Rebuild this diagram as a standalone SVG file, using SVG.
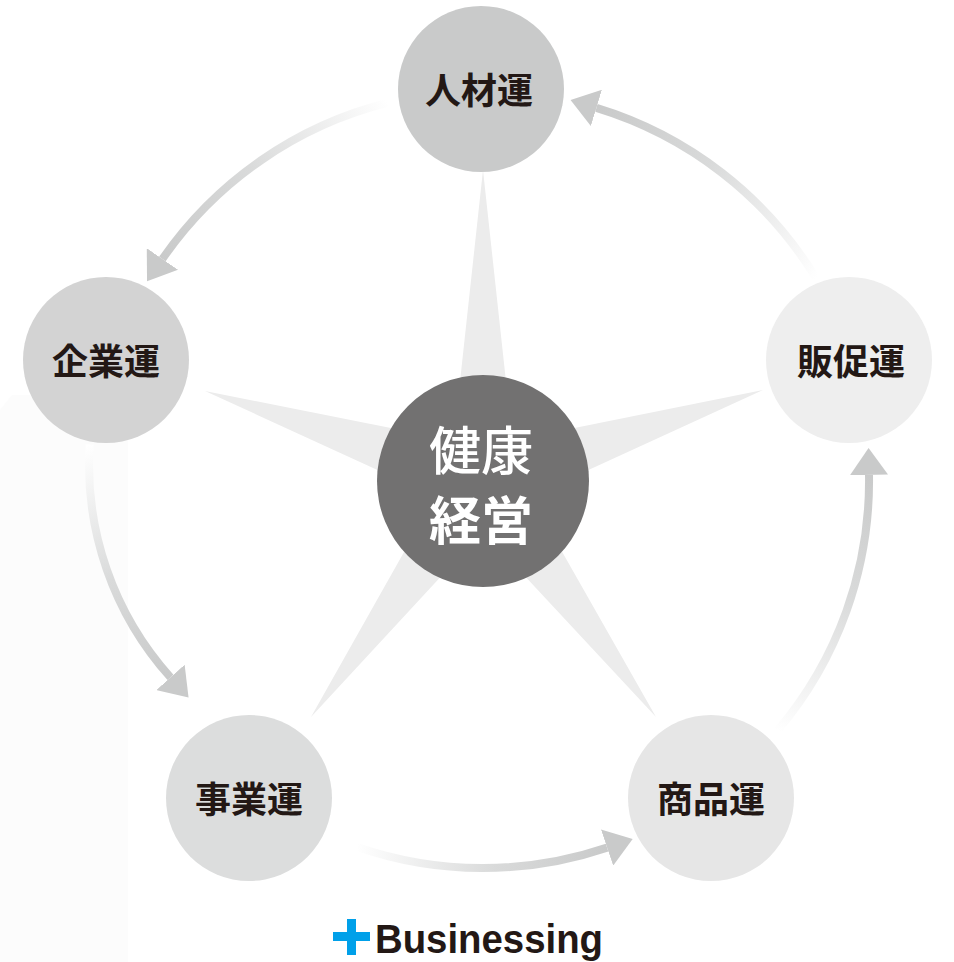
<svg xmlns="http://www.w3.org/2000/svg" width="954" height="962" viewBox="0 0 954 962">
<style>
.lbl{font-family:"Noto Sans CJK JP","Noto Sans CJK SC",sans-serif;font-weight:700;font-size:36px;fill:#231815;text-anchor:middle;dominant-baseline:central}
.ctr{font-family:"Noto Sans CJK JP","Noto Sans CJK SC",sans-serif;font-size:52px;fill:#ffffff;text-anchor:middle;dominant-baseline:central}
.arr{fill:none;stroke-width:8;stroke-linecap:butt}
</style>
<defs>
<marker id="head" markerUnits="userSpaceOnUse" markerWidth="28" markerHeight="38" refX="0" refY="19" orient="auto" viewBox="0 0 28 38">
<path d="M0,0 L27,19 L0,38 Z" fill="#c9caca"/>
</marker>
<linearGradient id="g1" gradientUnits="userSpaceOnUse" x1="388" y1="102.7" x2="162.4" y2="259"><stop offset="0" stop-color="#ffffff"/><stop offset="0.55" stop-color="#d9dada"/><stop offset="1" stop-color="#c9caca"/></linearGradient>
<linearGradient id="g2" gradientUnits="userSpaceOnUse" x1="816" y1="278" x2="596.4" y2="107.9"><stop offset="0" stop-color="#ffffff"/><stop offset="0.55" stop-color="#d9dada"/><stop offset="1" stop-color="#c9caca"/></linearGradient>
<linearGradient id="g3" gradientUnits="userSpaceOnUse" x1="777.4" y1="730.7" x2="869" y2="474.9"><stop offset="0" stop-color="#ffffff"/><stop offset="0.55" stop-color="#d9dada"/><stop offset="1" stop-color="#c9caca"/></linearGradient>
<linearGradient id="g4" gradientUnits="userSpaceOnUse" x1="356.4" y1="846.7" x2="607.1" y2="847.6"><stop offset="0" stop-color="#ffffff"/><stop offset="0.55" stop-color="#d9dada"/><stop offset="1" stop-color="#c9caca"/></linearGradient>
<linearGradient id="g5" gradientUnits="userSpaceOnUse" x1="89.7" y1="444.5" x2="170.5" y2="677.4"><stop offset="0" stop-color="#ffffff"/><stop offset="0.55" stop-color="#d9dada"/><stop offset="1" stop-color="#c9caca"/></linearGradient>
</defs>
<rect x="0" y="0" width="954" height="962" fill="#ffffff"/>
<path d="M0,410 L12,395 L128,395 L128,962 L0,962 Z" fill="#fcfcfc"/>
<g id="star">
<polygon fill="#ececec" points="483,170 512.4,440.6 763,390 530.6,496.4 656,717 483,531 311,717 435.4,496.4 205,391 453.6,440.6"/>
</g>
<g id="connectors">
<path class="arr" stroke="url(#g1)" marker-end="url(#head)" d="M388,102.7 A390,390 0 0 0 162.4,259"/>
<path class="arr" stroke="url(#g2)" marker-end="url(#head)" d="M816,278 A390,390 0 0 0 596.4,107.9"/>
<path class="arr" stroke="url(#g3)" marker-end="url(#head)" d="M777.4,730.7 A386,386 0 0 0 869,474.9"/>
<path class="arr" stroke="url(#g4)" marker-end="url(#head)" d="M356.4,846.7 A387,387 0 0 0 607.1,847.6"/>
<path class="arr" stroke="url(#g5)" marker-end="url(#head)" d="M89.7,444.5 A318,318 0 0 0 170.5,677.4"/>
</g>
<g id="node-jinzai">
<circle cx="481" cy="89" r="83" fill="#c9caca"/>
<text class="lbl" x="479" y="88">人材運</text>
</g>
<g id="node-kigyou">
<circle cx="106" cy="360" r="83" fill="#d3d3d3"/>
<text class="lbl" x="106" y="359">企業運</text>
</g>
<g id="node-hansoku">
<circle cx="849" cy="360" r="83" fill="#eeeeee"/>
<text class="lbl" x="851" y="359">販促運</text>
</g>
<g id="node-jigyou">
<circle cx="249" cy="798" r="83" fill="#dcdddd"/>
<text class="lbl" x="249" y="797">事業運</text>
</g>
<g id="node-shouhin">
<circle cx="711" cy="798" r="83" fill="#e6e6e6"/>
<text class="lbl" x="711" y="797">商品運</text>
</g>
<g id="node-center">
<circle cx="483" cy="481" r="106" fill="#727171"/>
<text class="ctr" x="481" y="447" font-weight="500">健康</text>
<text class="ctr" x="481" y="517" font-weight="700">経営</text>
</g>
<g id="logo">
<rect x="333" y="932" width="37" height="9" fill="#00a0e9"/>
<rect x="347" y="919" width="9" height="36" fill="#00a0e9"/>
<text x="375" y="953" font-family="'Liberation Sans',Arial,sans-serif" font-weight="700" font-size="40" fill="#231815" textLength="228" lengthAdjust="spacingAndGlyphs">Businessing</text>
</g>
</svg>
